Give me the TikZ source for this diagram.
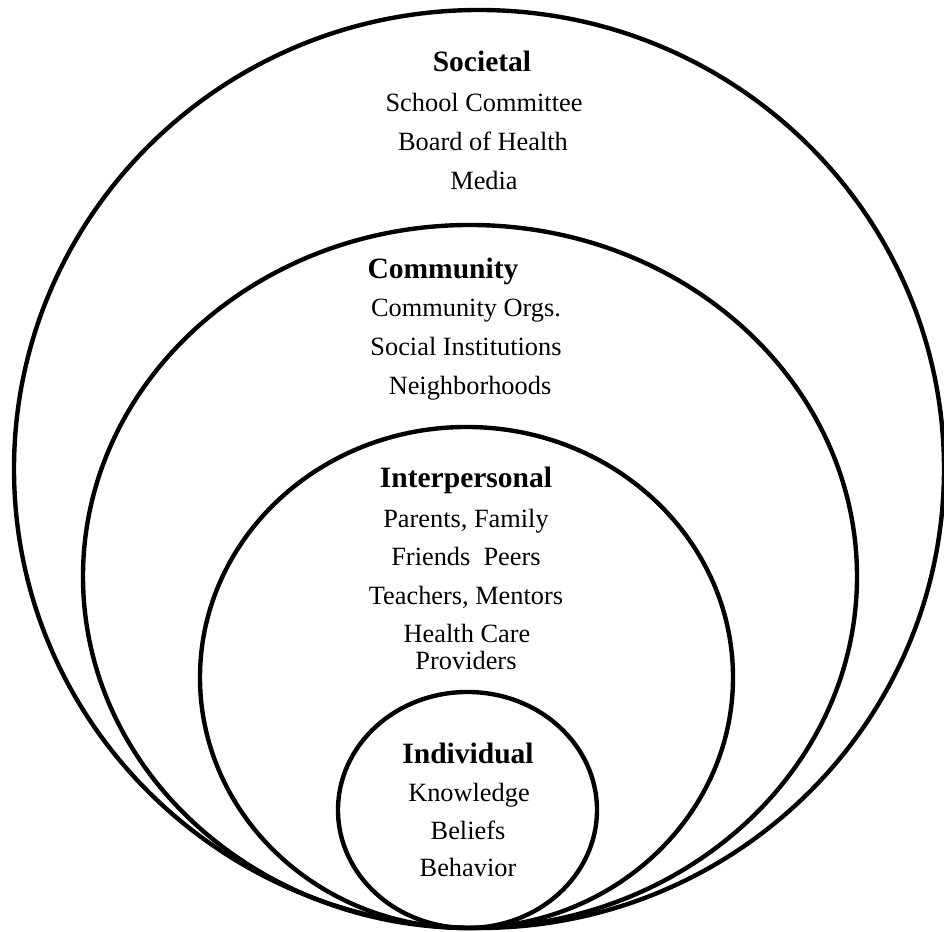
\documentclass[tikz,border=0pt]{standalone}
\usepackage{fontspec}
\setmainfont{Liberation Serif}

\tikzset{
	ring/.style={line width=2.5pt},
	ringtitle/.style={anchor=base,inner sep=0pt,font=\fontsize{16.8}{20}\selectfont\bfseries},
	ringitem/.style={anchor=base,inner sep=0pt,font=\fontsize{15}{18}\selectfont}
}

\begin{document}
\begin{tikzpicture}[x=0.02cm,y=0.02cm]
	\useasboundingbox (0,0) rectangle (944,932);
	% the four levels, all touching at the bottom
	\draw[ring] (479,463) ellipse [x radius=465, y radius=459];
	\draw[ring] (470,355.5) ellipse [x radius=387, y radius=351.5];
	\draw[ring] (466.5,254.5) ellipse [x radius=266.5, y radius=250.5];
	\draw[ring] (467.5,122) ellipse [x radius=129.5, y radius=118];

	\node[ringtitle] (societal) at (482,860) {Societal};
	\node[ringitem] (societal-1) at (484,820) {School Committee};
	\node[ringitem] (societal-2) at (483,781) {Board of Health};
	\node[ringitem] (societal-3) at (484,742) {Media};

	\node[ringtitle] (community) at (443,653) {Community};
	\node[ringitem] (community-1) at (466,615) {Community Orgs.};
	\node[ringitem] (community-2) at (466,576) {Social Institutions};
	\node[ringitem] (community-3) at (470,537) {Neighborhoods};

	\node[ringtitle] (interpersonal) at (466,444) {Interpersonal};
	\node[ringitem] (interpersonal-1) at (466,404) {Parents, Family};
	\node[ringitem] (interpersonal-2) at (466,366) {Friends\ \ Peers};
	\node[ringitem] (interpersonal-3) at (466,327) {Teachers, Mentors};
	\node[ringitem] (interpersonal-4) at (467,289) {Health Care};
	\node[ringitem] (interpersonal-5) at (466,262) {Providers};

	\node[ringtitle] (individual) at (468,168) {Individual};
	\node[ringitem] (individual-1) at (469,130) {Knowledge};
	\node[ringitem] (individual-2) at (468,92) {Beliefs};
	\node[ringitem] (individual-3) at (468,55) {Behavior};
\end{tikzpicture}
\end{document}
